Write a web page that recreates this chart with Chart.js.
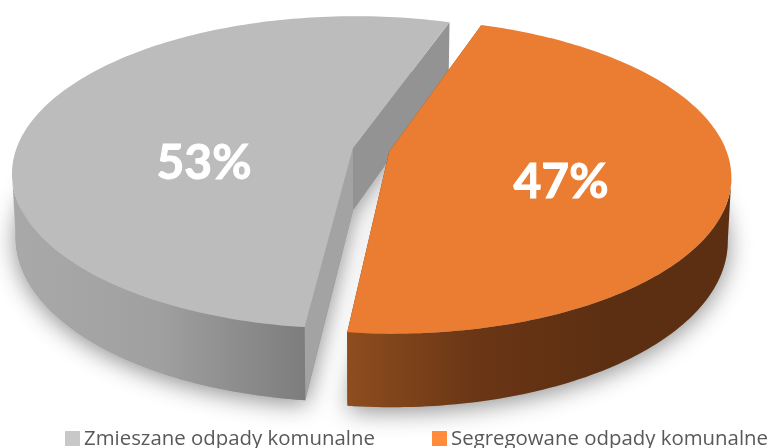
<!DOCTYPE html>
<html>
<head>
<meta charset="utf-8">
<style>
html,body{margin:0;padding:0;background:#fff;overflow:hidden}
#wrap{width:776px;height:448px}
</style>
<script src="https://cdn.jsdelivr.net/npm/chart.js@4"></script>
</head>
<body>
<div id="wrap"><canvas id="wykres"></canvas></div>
<script>
const kategorie = ['Zmieszane odpady komunalne', 'Segregowane odpady komunalne'];
const wartosci = [53.4, 46.6];
const koloryLegendy = ['#c8c8c8', '#ff8b3b'];

// wyglad "3D" - rzut perspektywiczny kola
const rzut = { cx: 371, cy: 150, R: 337, S: 153, k: 0.155, T: 62, dol: 0.99 };
const sciany = [
  { gora: '#bcbcbc', tyl: '#939393', przod: '#a3a3a3', rant: ['#a9a9a9', '#a0a0a0', '#7d7d7d'] },
  { gora: '#ea7d31', tyl: '#5e3013', przod: '#8a4a1c', rant: ['#8e4d1e', '#6a3615', '#5d2f12', '#5d2f12'] }
];
const etykietyXY = [[204, 164], [561, 183]];
const legendaXY = [[65, 84], [432, 451]];

function punkt(u, v, dolny) {
  const w = 1 + rzut.k * v;
  const x = rzut.cx + rzut.R * u / w;
  const y = rzut.cy - rzut.S * v / w;
  if (!dolny) return [x, y];
  return [rzut.cx + (x - rzut.cx) * rzut.dol, y + rzut.T / w];
}

function sciezka(ctx, pkt) {
  ctx.beginPath();
  pkt.forEach((p, i) => i ? ctx.lineTo(p[0], p[1]) : ctx.moveTo(p[0], p[1]));
  ctx.closePath();
}

const wykres3d = {
  id: 'wykres3d',
  beforeDatasetsDraw(chart) {
    const ctx = chart.ctx;
    const luki = chart.getDatasetMeta(0).data.map(el => {
      const p = el.getProps(['startAngle', 'endAngle', 'outerRadius']);
      const mid = (p.startAngle + p.endAngle) / 2;
      const d = el.options.offset / p.outerRadius;
      const ou = Math.cos(mid) * d, ov = -Math.sin(mid) * d;
      const gora = [], dol = [], rantG = [], rantD = [];
      const n = 160;
      for (let i = 0; i <= n; i++) {
        const a = p.startAngle + (p.endAngle - p.startAngle) * i / n;
        const g = punkt(Math.cos(a) + ou, -Math.sin(a) + ov, false);
        const h = punkt(Math.cos(a) + ou, -Math.sin(a) + ov, true);
        gora.push(g);
        dol.push(h);
        // rant widoczny tylko z przodu
        if (-Math.sin(a) < -rzut.k) {
          rantG.push(g);
          rantD.push(h);
        }
      }
      return { gora, dol, rantG, rantD, sG: punkt(ou, ov, false), sD: punkt(ou, ov, true) };
    });

    // cien pod calym wykresem
    ctx.save();
    ctx.shadowColor = 'rgba(0,0,0,0.45)';
    ctx.shadowBlur = 24;
    ctx.shadowOffsetY = 4;
    ctx.fillStyle = '#999';
    luki.forEach(l => {
      sciezka(ctx, [l.sD].concat(l.dol));
      ctx.fill();
    });
    ctx.restore();

    luki.forEach((l, i) => {
      const st = sciany[i];
      const g = l.gora, d = l.dol;
      // sciany ciecia
      ctx.fillStyle = st.tyl;
      sciezka(ctx, [l.sG, g[g.length - 1], d[d.length - 1], l.sD]);
      ctx.fill();
      ctx.fillStyle = st.przod;
      sciezka(ctx, [l.sG, g[0], d[0], l.sD]);
      ctx.fill();
      // rant
      const xs = l.rantG.map(p => p[0]);
      const x0 = Math.min(...xs), x1 = Math.max(...xs);
      const gr = ctx.createLinearGradient(x0, 0, x1, 0);
      st.rant.forEach((c, j) => gr.addColorStop(j / (st.rant.length - 1), c));
      ctx.fillStyle = gr;
      sciezka(ctx, l.rantG.concat(l.rantD.slice().reverse()));
      ctx.fill();
      // gorna powierzchnia
      ctx.fillStyle = st.gora;
      sciezka(ctx, [l.sG].concat(g));
      ctx.fill();
    });

    // procenty
    const suma = wartosci.reduce((a, b) => a + b, 0);
    ctx.save();
    ctx.fillStyle = '#fff';
    ctx.strokeStyle = '#fff';
    ctx.lineWidth = 1;
    ctx.font = 'bold 48px Lato';
    ctx.textAlign = 'center';
    ctx.textBaseline = 'middle';
    wartosci.forEach((w, i) => {
      const txt = Math.round(w / suma * 100) + '%';
      ctx.fillText(txt, etykietyXY[i][0], etykietyXY[i][1]);
      ctx.strokeText(txt, etykietyXY[i][0], etykietyXY[i][1]);
    });
    ctx.restore();

    // legenda
    ctx.save();
    ctx.font = '20.4px "Open Sans"';
    ctx.textBaseline = 'alphabetic';
    kategorie.forEach((t, i) => {
      ctx.fillStyle = koloryLegendy[i];
      ctx.fillRect(legendaXY[i][0], 431, 15, 15);
      ctx.fillStyle = '#595959';
      ctx.fillText(t, legendaXY[i][1], 445);
    });
    ctx.restore();
    return false;
  }
};

new Chart(document.getElementById('wykres'), {
  type: 'pie',
  data: {
    labels: kategorie,
    datasets: [{
      data: wartosci,
      backgroundColor: koloryLegendy,
      borderWidth: 0,
      offset: 12
    }]
  },
  options: {
    responsive: true,
    maintainAspectRatio: false,
    animation: false,
    rotation: -173.5,
    plugins: { legend: { display: false }, tooltip: { enabled: false } }
  },
  plugins: [wykres3d]
});
</script>
</body>
</html>
